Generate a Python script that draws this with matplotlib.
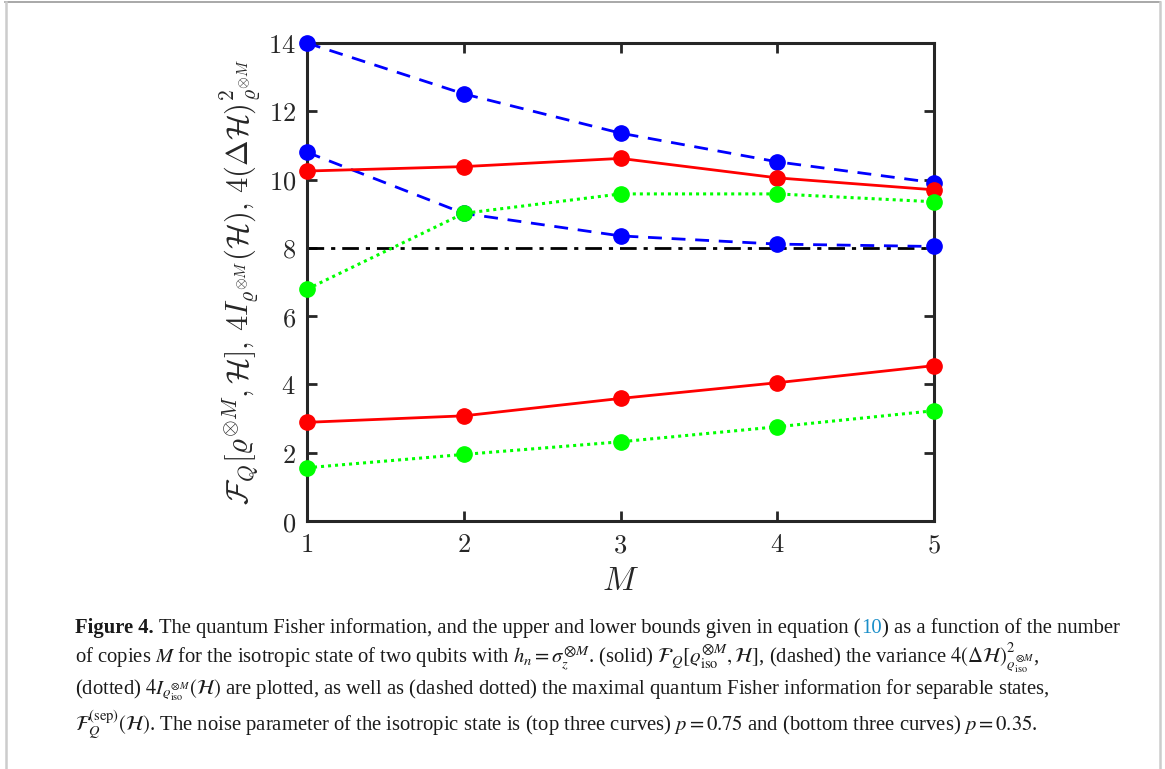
import matplotlib
matplotlib.use('Agg')
from matplotlib import pyplot as plt
from matplotlib.lines import Line2D

plt.rcParams['mathtext.fontset'] = 'cm'

W, H = 1165, 769

M = [1, 2, 3, 4, 5]
# p = 0.75 (top three curves)
qfi_top = [10.25, 10.38, 10.62, 10.05, 9.70]
var_top = [14.0, 12.51, 11.36, 10.52, 9.91]
info_top = [6.79, 9.01, 9.58, 9.58, 9.35]
# p = 0.35 (bottom three curves)
qfi_bot = [2.89, 3.08, 3.59, 4.05, 4.55]
var_bot = [10.80, 9.01, 8.35, 8.11, 8.04]
info_bot = [1.56, 1.95, 2.32, 2.76, 3.23]
sep_bound = 8

x_ticks = [1, 2, 3, 4, 5]
y_ticks = [0, 2, 4, 6, 8, 10, 12, 14]

dark = '#262626'

fig = plt.figure(figsize=(W / 100, H / 100), dpi=100)
ax = fig.add_axes([307 / W, 1 - 521 / H, (934 - 307) / W, (521 - 43) / H])

ax.axhline(sep_bound, color='k', ls='-.', lw=2.0, dashes=(6, 2.5, 1.5, 2.5), zorder=2)

style = dict(marker='o', ms=11, clip_on=False, zorder=3)
for vals in (var_top, var_bot):
    ax.plot(M, vals, color=(0, 0, 1), ls='--', lw=2.0, dashes=(5, 3.5), **style)
for vals in (qfi_top, qfi_bot):
    ax.plot(M, vals, color=(1, 0, 0), ls='-', lw=2.0, **style)
for vals in (info_top, info_bot):
    ax.plot(M, vals, color=(0, 1, 0), ls=':', lw=2.2, dashes=(1, 1.3), **style)

ax.set_xlim(1, 5)
ax.set_ylim(0, 14)
ax.set_xticks(x_ticks)
ax.set_yticks(y_ticks)
ax.set_xticklabels([f'${v}$' for v in x_ticks])
ax.set_yticklabels([f'${v}$' for v in y_ticks])
ax.tick_params(direction='in', length=7, width=2, color=dark, labelcolor=dark,
               labelsize=19, top=True, right=True, pad=8)
for sp in ax.spines.values():
    sp.set_linewidth(2.2)
    sp.set_color(dark)

ax.set_xlabel('$M$', fontsize=24, color=dark, labelpad=4)
ax.set_ylabel(r'$\mathcal{F}_Q[\varrho^{\otimes M},\mathcal{H}],\,4I_{\varrho^{\otimes M}}(\mathcal{H}),'
              r'\,4(\Delta\mathcal{H})^2_{\varrho^{\otimes M}}$', fontsize=22, color=dark, labelpad=4)

# thin page frame
fig.add_artist(Line2D([5 / W, 1160 / W], [1 - 2 / H, 1 - 2 / H], color='#999999', lw=1.2))
fig.add_artist(Line2D([6 / W, 6 / W], [0, 1 - 2 / H], color='#cccccc', lw=1.8))
fig.add_artist(Line2D([1160 / W, 1160 / W], [0, 1 - 2 / H], color='#cccccc', lw=1.8))

# caption
cap = dict(family='Liberation Serif', fontsize=14.9, color='#1a1a1a', va='baseline',
           ha='left', math_fontfamily='stix')
r = fig.canvas.get_renderer()
x0 = 75

t = fig.text(x0 / W, 1 - 633 / H, 'Figure 4.', weight='bold', **cap)
x = x0 + t.get_window_extent(renderer=r).width + 5
pieces = [('The quantum Fisher information, and the upper and lower bounds given in equation (', None),
          ('10', '#1b8fc9'),
          (') as a function of the number', None)]
for s, c in pieces:
    kw = dict(cap)
    if c:
        kw['color'] = c
    t = fig.text(x / W, 1 - 633 / H, s, **kw)
    x += t.get_window_extent(renderer=r).width + (1 if s.endswith('(') else 0)

fig.text(x0 / W, 1 - 664 / H,
         r'of copies $M$ for the isotropic state of two qubits with $h_n=\sigma_z^{\otimes M}$. '
         r'(solid) $\mathcal{F}_Q[\varrho_{\rm iso}^{\otimes M},\mathcal{H}]$, (dashed) the variance '
         r'$4(\Delta\mathcal{H})^2_{\varrho_{\rm iso}^{\otimes M}}$,', **cap)
fig.text(x0 / W, 1 - 695 / H,
         r'(dotted) $4I_{\varrho_{\rm iso}^{\otimes M}}(\mathcal{H})$ are plotted, as well as '
         r'(dashed dotted) the maximal quantum Fisher information for separable states,', **cap)
fig.text(x0 / W, 1 - 731 / H,
         r'$\mathcal{F}_Q^{(\rm sep)}(\mathcal{H})$. The noise parameter of the isotropic state is '
         r'(top three curves) $p=0.75$ and (bottom three curves) $p=0.35$.', **cap)

fig.savefig('out.png', dpi=100)
